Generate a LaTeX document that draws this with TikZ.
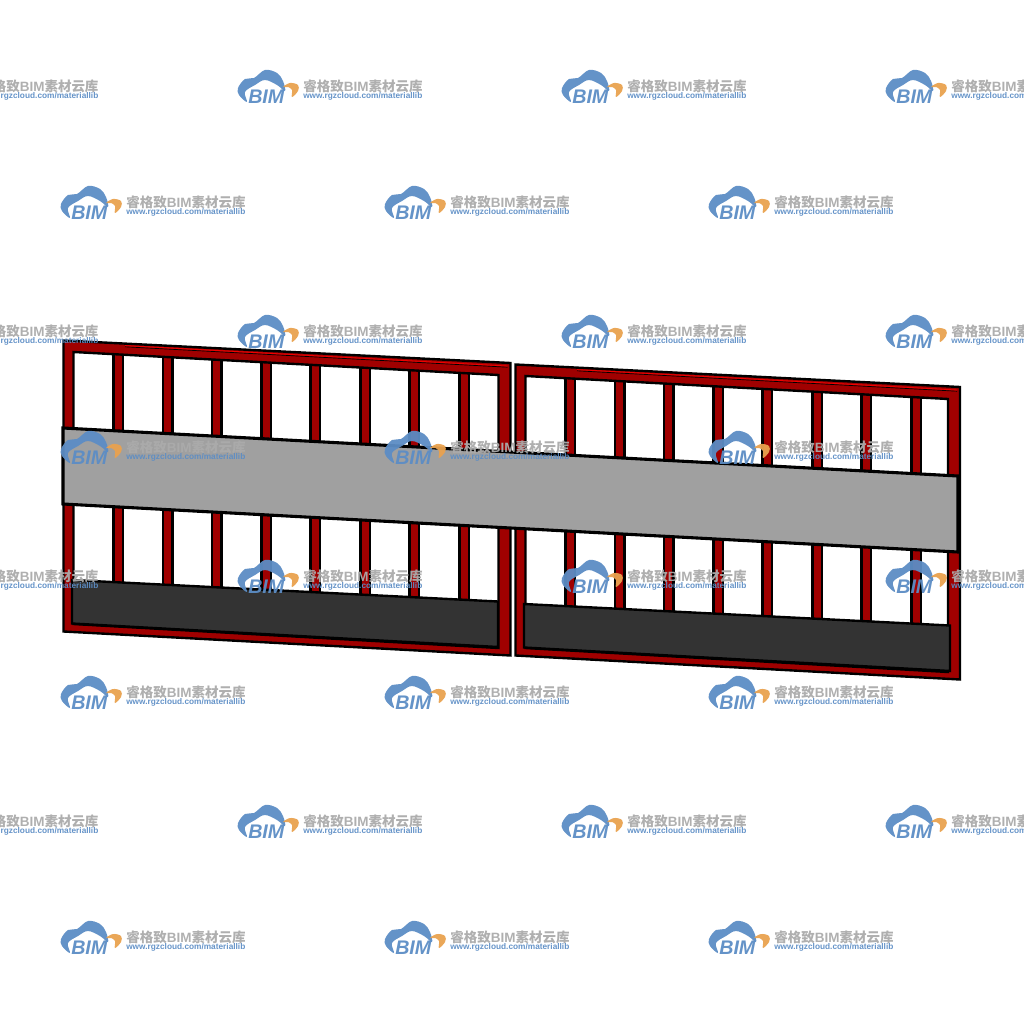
\documentclass[tikz,border=0pt]{standalone}
\usepackage{xcolor}
\definecolor{frameRed}{HTML}{A00000}
\definecolor{streakRed}{HTML}{F00000}
\definecolor{bandGrey}{HTML}{A0A0A0}
\definecolor{panelDark}{HTML}{333333}
\definecolor{logoBlue}{HTML}{5C8DC5}
\definecolor{logoOrange}{HTML}{E9A24F}
\definecolor{logoGrey}{HTML}{ABABAB}
\usepackage{fontspec}
\setmainfont{Liberation Sans}
\newfontfamily\cjkfont{Noto Sans CJK SC}

\begin{document}
\begin{tikzpicture}[x = 0.25mm, y = -0.25mm,
	edge/.style = {draw = black, line width = 1.7pt, line join = miter},
	stud/.style = {edge, fill = frameRed},
	logotext/.style = {inner sep = 0pt, anchor = west, opacity = 0.95},
	pics/bimlogo/.style = {code = {
		\fill[logoBlue, opacity = 0.95] plot[smooth cycle, tension = 0.6] coordinates {(9, 15) (1, 8) (0, 1) (7, -8) (16, -9) (27, -17) (39, -14) (45, -6) (47, 4) (39, -2) (27, -7) (17, -2) (7, 5)};
		\fill[logoOrange, opacity = 0.95] plot[smooth cycle, tension = 0.6] coordinates {(45, 0) (52, -4) (60, -2) (60, 4) (54, 10) (54, 3) (50, 0)};
		\node[logotext, logoBlue, font = \fontsize{14}{14}\selectfont\bfseries\itshape] (bim) at (10, 9.5) {BIM};
		\node[logotext, logoGrey, font = \fontsize{9.6}{9.6}\selectfont\bfseries] (cjk) at (65, -1) {{\cjkfont 睿格致}BIM{\cjkfont 素材云库}};
		\node[logotext, logoBlue, font = \fontsize{5.9}{5.9}\selectfont\bfseries] (url) at (65, 9.5) {www.rgzcloud.com/materiallib};
	}}]
	\useasboundingbox (0, 0) rectangle (1024, 1024);
	\clip (0, 0) rectangle (1024, 1024);

	%% Gates
	\foreach \dx/\dy/\wall in {0/0/498.5, 452/24/496} {
		\begin{scope}[shift = {(\dx, \dy)}]
			\fill[white] (70, 348) -- (505, 371) -- (505, 650) -- (70, 628) -- cycle;

			% Studs
			\foreach \cx in {118, 167.5, 216.5, 266, 315, 365, 414, 464} {
				\pgfmathsetmacro{\ytop}{347 + 0.05 * (\cx - 63)}
				\pgfmathsetmacro{\ybot}{585 + 0.05 * (\cx - 63)}
				\draw[stud] (\cx - 4.4, \ytop) rectangle (\cx + 5, \ybot);
			}

			% Frame
			\draw[edge, fill = frameRed, even odd rule] (63.5, 340.5) -- (\wall + 12, 363) -- (\wall + 12, 655.5) -- (63.5, 631.5)  -- cycle
				(73.5, 352) -- (\wall, 375) -- (\wall, 648) -- (73.5, 624) -- cycle;
			\draw[black, line width = 0.5pt] (125, 346.8) -- (\wall + 9, 367.2);
			\draw[streakRed, line width = 0.6pt] (125, 345.6) -- (\wall + 9, 366);

			% Lower panel
			\draw[edge, fill = panelDark] (72, 580) -- (498, 601.5) -- (498, 647) -- (72, 623.5) -- cycle;
		\end{scope}
	}

	%% Band across both gates
	\draw[line width = 2.2pt, fill = bandGrey] (63, 428) -- (958, 476) -- (958, 552) -- (63, 504) -- cycle;

	%% Watermarks
	\foreach \ypos in {87, 332, 577, 822}
		\foreach \xpos in {-86, 238, 562, 886}
			\pic at (\xpos, \ypos) {bimlogo};
	\foreach \ypos in {203, 448, 693, 938}
		\foreach \xpos in {61, 385, 709}
			\pic at (\xpos, \ypos) {bimlogo};
\end{tikzpicture}
\end{document}
